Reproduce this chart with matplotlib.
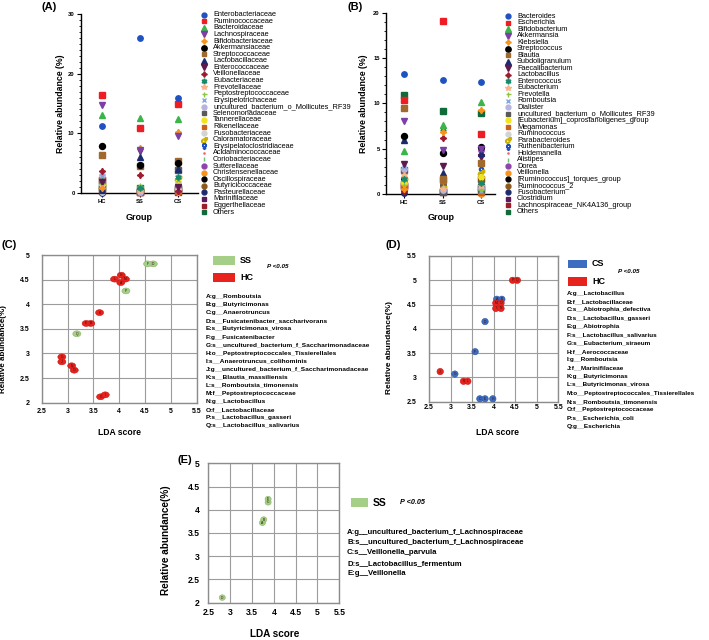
import numpy as np
import matplotlib
matplotlib.use('Agg')
import matplotlib.pyplot as plt
from matplotlib.patches import Ellipse, Rectangle

plt.rcParams['font.family'] = ['Liberation Sans', 'DejaVu Sans']

groups = ['HC', 'SS', 'CS']

# panel A - family level
fam_names = ['Enterobacteriaceae', 'Ruminococcaceae', 'Bacteroidaceae', 'Lachnospiraceae',
             'Bifidobacteriaceae', 'Akkermansiaceae', 'Streptococcaceae', 'Lactobacillaceae',
             'Enterococcaceae', 'Veillonellaceae', 'Eubacteriaceae', 'Prevotellaceae',
             'Peptostreptococcaceae', 'Erysipelotrichaceae', 'uncultured_bacterium_o_Mollicutes_RF39',
             'Selenomonadaceae', 'Tannerellaceae', 'Rikenellaceae', 'Fusobacteriaceae',
             'Caloramatoraceae', 'Erysipelatoclostridiaceae', 'Acidaminococcaceae',
             'Coriobacteriaceae', 'Sutterellaceae', 'Christensenellaceae', 'Oscillospiraceae',
             'Butyricicoccaceae', 'Pasteurellaceae', 'Marinifilaceae', 'Eggerthellaceae', 'Others']
fam_hc = [11.3, 16.4, 13.1, 14.7, 0.9, 7.9, 6.4, 0.5, 1.8, 3.7, 2.0, 1.2, 1.5, 2.9, 3.0,
          0.8, 1.4, 2.2, 0.1, 1.0, 0.6, 0.4, 0.7, 1.6, 0.8, 0.6, 0.9, 0.0, 2.1, 0.3, 1.1]
fam_ss = [25.9, 10.9, 12.5, 7.2, 7.5, 4.7, 4.5, 6.0, 7.0, 3.0, 0.8, 0.3, 1.1, 0.6, 0.2,
          0.4, 0.5, 0.2, 0.9, 0.1, 0.2, 0.1, 0.3, 0.4, 0.2, 0.3, 0.5, 0.1, 0.2, 0.1, 0.9]
fam_cs = [15.9, 14.9, 12.4, 9.6, 10.2, 5.1, 5.4, 4.1, 1.0, 0.4, 2.6, 0.5, 0.3, 2.1, 0.7,
          3.9, 1.8, 0.3, 0.2, 2.4, 1.5, 0.2, 0.4, 1.2, 0.6, 0.5, 0.7, 0.1, 0.8, 0.2, 0.6]

# panel B - genus level
gen_names = ['Bacteroides', 'Escherichia', 'Bifidobacterium', 'Akkermansia', 'Klebsiella',
             'Streptococcus', 'Blautia', 'Subdoligranulum', 'Faecalibacterium', 'Lactobacillus',
             'Enterococcus', 'Eubacterium', 'Prevotella', 'Romboutsia', 'Dialister',
             'uncultured_bacterium_o_Mollicutes_RF39', '[Eubacterium]_coprostanoligenes_group',
             'Megamonas', 'Ruminococcus', 'Parabacteroides', 'Ruthenibacterium', 'Holdemanella',
             'Alistipes', 'Dorea', 'Veillonella', '[Ruminococcus]_torques_group', 'Ruminococcus_2',
             'Fusobacterium', 'Clostridium', 'Lachnospiraceae_NK4A136_group', 'Others']
gen_hc = [13.2, 10.4, 4.7, 8.0, 0.6, 6.4, 9.45, 6.0, 3.3, 0.3, 1.6, 2.1, 1.0, 3.0, 2.8,
          2.6, 1.2, 0.8, 2.4, 1.4, 0.9, 0.5, 1.1, 1.3, 0.7, 1.5, 1.8, 0.1, 0.9, 1.0, 10.9]
gen_ss = [12.6, 19.1, 7.6, 4.85, 6.8, 4.5, 1.7, 2.3, 3.1, 6.2, 7.2, 0.5, 0.8, 0.6, 0.4,
          0.2, 0.2, 1.5, 0.6, 0.5, 0.3, 0.1, 0.3, 0.4, 2.0, 0.5, 0.9, 1.0, 0.3, 0.2, 9.2]
gen_cs = [12.4, 6.6, 10.1, 5.0, 9.3, 5.2, 3.45, 4.5, 4.1, 4.3, 1.2, 0.9, 0.4, 0.3, 0.7,
          0.5, 1.9, 0.2, 0.9, 2.3, 2.7, 0.3, 0.6, 4.9, 0.05, 1.0, 1.4, 0.2, 1.6, 0.8, 8.9]

# symbol set shared by A and B (marker, colour, size)
styles = [('o', '#1f52c0', 3.9), ('s', '#ee1d23', 3.9), ('^', '#3bb44a', 4.1),
          ('v', '#7b3fa6', 4.1), ((4, 1, 0), '#f7941d', 4.6), ('o', '#000000', 4.3),
          ('s', '#a0692d', 3.9), ('^', '#1c2b6e', 4.1), ('v', '#5c1a4e', 4.1),
          ((4, 1, 0), '#9e1b30', 4.6), ((6, 1, 0), '#178a6c', 4.4), ('*', '#f9b48a', 4.4),
          ('+', '#8dc63f', 4.0), ('x', '#7fa7e0', 3.5), ('o', '#b9b3e0', 3.9),
          ('s', '#5a5a5a', 3.9), ('o', '#f2e41c', 3.9), ('s', '#c8611a', 3.9),
          ('o', '#d3d3d3', 3.9), ('$\u2642$', '#c9b200', 4.6), ('$\u2640$', '#1f52c0', 4.6),
          ('.', '#f26a6a', 2.0), ('|', '#6cc070', 3.5), ('o', '#8e44ad', 3.9),
          ('o', '#f7931e', 3.9), ('o', '#000000', 3.9), ('o', '#8b5a1b', 3.9),
          ('o', '#1c2b6e', 3.9), ('s', '#5a1a5a', 3.7), ('s', '#9e1b2a', 3.7),
          ('s', '#106b3b', 3.7)]

# panel C - LEfSe SS vs HC
c_taxa = ['g__Romboutsia', 'g__Butyricimonas', 'g__Anaerotruncus',
          's__Fusicatenibacter_saccharivorans', 's__Butyricimonas_virosa', 'g__Fusicatenibacter',
          's__uncultured_bacterium_f_Saccharimonadaceae', 'o__Peptostreptococcales_Tissierellales',
          's__Anaerotruncus_colihominis', 'g__uncultured_bacterium_f_Saccharimonadaceae',
          's__Blautia_massiliensis', 's__Romboutsia_timonensis', 'f__Peptostreptococcaceae',
          'g__Lactobacillus', 'f__Lactobacillaceae', 's__Lactobacillus_gasseri',
          's__Lactobacillus_salivarius']
c_lda = [4.03, 3.45, 3.64, 4.66, 3.36, 4.55, 2.89, 4.04, 3.73, 2.89, 3.62, 3.91, 4.12,
         3.08, 3.13, 4.13, 3.18]
c_abund = [4.44, 3.61, 2.12, 4.82, 3.61, 4.82, 2.93, 4.59, 2.16, 2.83, 3.83, 4.51, 4.51,
           2.75, 2.66, 4.27, 3.40]
c_group = ['HC', 'HC', 'HC', 'SS', 'HC', 'SS', 'HC', 'HC', 'HC', 'HC', 'HC', 'HC', 'HC',
           'HC', 'HC', 'SS', 'SS']

# panel D - LEfSe CS vs HC
d_taxa = ['g__Lactobacillus', 'f__Lactobacillaceae', 's__Abiotrophia_defectiva',
          's__Lactobacillus_gasseri', 'g__Abiotrophia', 's__Lactobacillus_salivarius',
          's__Eubacterium_siraeum', 'f__Aerococcaceae', 'g__Romboutsia', 'f__Marinifilaceae',
          'g__Butyricimonas', 's__Butyricimonas_virosa', 'o__Peptostreptococcales_Tissierellales',
          's__Romboutsia_timonensis', 'f__Peptostreptococcaceae', 's__Escherichia_coli',
          'g__Escherichia']
d_lda = [4.07, 4.19, 3.68, 3.80, 3.80, 3.57, 3.10, 3.98, 4.05, 2.76, 3.30, 3.40, 4.05,
         4.17, 4.17, 4.44, 4.55]
d_abund = [4.61, 4.61, 2.56, 4.15, 2.56, 3.53, 3.07, 2.56, 4.42, 3.12, 2.92, 2.92, 4.53,
           4.42, 4.53, 5.0, 5.0]
d_group = ['CS'] * 8 + ['HC'] * 9

# panel E - LEfSe SS only
e_taxa = ['g__uncultured_bacterium_f_Lachnospiraceae', 's__uncultured_bacterium_f_Lachnospiraceae',
          's__Veillonella_parvula', 's__Lactobacillus_fermentum', 'g__Veillonella']
e_lda = [3.74, 3.77, 3.87, 2.82, 3.87]
e_abund = [3.72, 3.79, 4.16, 2.11, 4.23]
e_group = ['SS'] * 5

fill = {'HC': '#e8221d', 'SS': '#a5cf87', 'CS': '#3d6cc0'}
edge = {'HC': '#c41812', 'SS': '#86b866', 'CS': '#2c56a3'}

W, H = 709, 640
fig = plt.figure(figsize=(W / 100, H / 100), dpi=100)


def box(l, t, r, b):
    return [l / W, 1 - b / H, (r - l) / W, (b - t) / H]


# overlay in pixel coordinates for legends and panel letters
ov = fig.add_axes([0, 0, 1, 1], zorder=5)
ov.set_xlim(0, W)
ov.set_ylim(H, 0)
ov.axis('off')
ov.patch.set_alpha(0)


def dot_panel(ax, hc, ss, cs, ymax, xlim, names, lx, ly0, dy):
    for i, (m, c, s) in enumerate(styles):
        ax.plot(range(3), [hc[i], ss[i], cs[i]], ls='none', marker=m, color=c, ms=s,
                mew=1.0, zorder=40 - i, clip_on=False)
        ov.plot(lx, ly0 + i * dy, ls='none', marker=m, color=c, ms=s * 0.9, mew=1.0)
        ov.text(lx + 9, ly0 + i * dy, names[i], fontsize=5.3, va='center', ha='left')
    ax.set_xlim(*xlim)
    ax.set_ylim(0, ymax)
    ax.set_xticks(range(3))
    ax.set_xticklabels(groups, fontsize=4.2, fontweight='bold')
    ax.spines['top'].set_visible(False)
    ax.spines['right'].set_visible(False)
    for s in ['left', 'bottom']:
        ax.spines[s].set_linewidth(1.0)
    ax.tick_params(axis='y', labelsize=4.2, length=3, width=0.8, pad=1.5)
    ax.tick_params(axis='x', length=3, width=0.8, pad=1.5)
    ax.minorticks_on()
    ax.tick_params(axis='x', which='minor', bottom=False)
    ax.tick_params(axis='y', which='minor', length=1.5, width=0.6)


axA = fig.add_axes(box(81, 14, 198, 193))
dot_panel(axA, fam_hc, fam_ss, fam_cs, 30, (-0.55, 2.53), fam_names, 204, 14.7, 6.58)
axA.set_yticks([0, 10, 20, 30])
axA.yaxis.set_minor_locator(matplotlib.ticker.MultipleLocator(1))
for t in axA.get_yticklabels():
    t.set_fontweight('bold')
axA.set_ylabel('Relative abundance (%)', fontsize=6.3, fontweight='bold')
axA.yaxis.set_label_coords(-0.137, 0.5)
axA.set_xlabel('Group', fontsize=6.5, fontweight='bold')
axA.xaxis.set_label_coords(0.5, -0.112)

axB = fig.add_axes(box(386, 12.7, 495, 194))
dot_panel(axB, gen_hc, gen_ss, gen_cs, 20, (-0.47, 2.36), gen_names, 508, 16, 6.53)
axB.set_yticks([0, 5, 10, 15, 20])
axB.yaxis.set_minor_locator(matplotlib.ticker.MultipleLocator(1))
for t in axB.get_yticklabels():
    t.set_fontweight('bold')
axB.set_ylabel('Relative abundance (%)', fontsize=6.3, fontweight='bold')
axB.yaxis.set_label_coords(-0.165, 0.5)
axB.set_xlabel('Group', fontsize=6.5, fontweight='bold')
axB.xaxis.set_label_coords(0.51, -0.105)


def lefse_panel(ax, lda, ab, grp, ylim, ew, eh, fs, ypad, xpad):
    ax.set_xlim(2.5, 5.5)
    ax.set_ylim(*ylim)
    xt = np.arange(2.5, 5.51, 0.5)
    yt = np.arange(ylim[0], ylim[1] + 0.01, 0.5)
    ax.set_xticks(xt)
    ax.set_xticklabels(['%g' % v for v in xt], fontsize=fs, fontweight='bold')
    ax.set_yticks(yt)
    ax.set_yticklabels(['%g' % v for v in yt], fontsize=fs, fontweight='bold')
    ax.grid(color='#9c9c9c', lw=0.8)
    ax.set_axisbelow(True)
    for s in ax.spines.values():
        s.set_color('#8c8c8c')
        s.set_linewidth(1.0)
    ax.tick_params(axis='both', length=0)
    ax.tick_params(axis='y', pad=ypad)
    ax.tick_params(axis='x', pad=xpad)
    for i, (x, y, g) in enumerate(zip(lda, ab, grp)):
        ax.add_patch(Ellipse((x, y), ew, eh, fc=fill[g], ec=edge[g], lw=0.4, zorder=3))
        ax.text(x, y, chr(65 + i), fontsize=2.4, ha='center', va='center', color='#3a1010',
                zorder=4)


def lefse_legend(entries, lx, ly0, dy, taxa, fs, rect, ptxt):
    for (g, t, b) in entries:
        ov.add_patch(Rectangle((rect[0], t), rect[1] - rect[0], b - t, fc=fill[g], ec='none'))
        ov.text(rect[1] + 5, (t + b) / 2, g, fontsize=rect[2], fontweight='bold',
                va='center', ha='left')
    ov.text(ptxt[0], ptxt[1], 'P <0.05', fontsize=ptxt[2], fontweight='bold',
            style='italic', va='center', ha='left')
    for i, name in enumerate(taxa):
        ov.text(lx, ly0 + i * dy, chr(65 + i) + ':' + name, fontsize=fs, fontweight='bold',
                va='center', ha='left')


axC = fig.add_axes(box(41.7, 255, 196.7, 402.7))
lefse_panel(axC, c_lda, c_abund, c_group, (2, 5), 0.155, 0.12, 5.0, 8.4, 4.0)
axC.set_ylabel('Relative abundance(%)', fontsize=5.8, fontweight='bold')
axC.yaxis.set_label_coords(-0.222, 0.36)
axC.set_xlabel('LDA score', fontsize=6.2, fontweight='bold')
axC.xaxis.set_label_coords(0.505, -0.171)
lefse_legend([('SS', 256, 265), ('HC', 272.7, 281.7)], 205.7, 296.7, 8.06, c_taxa, 4.65,
             (213, 235, 6.5), (266.7, 266.7, 4.5))

axD = fig.add_axes(box(429, 256, 558.3, 401.7))
lefse_panel(axD, d_lda, d_abund, d_group, (2.5, 5.5), 0.15, 0.13, 5.0, 8.6, 2.0)
axD.set_ylabel('Relative abundance(%)', fontsize=6.0, fontweight='bold')
axD.yaxis.set_label_coords(-0.278, 0.37)
axD.set_xlabel('LDA score', fontsize=6.2, fontweight='bold')
axD.xaxis.set_label_coords(0.526, -0.18)
lefse_legend([('CS', 260, 268), ('HC', 277, 286)], 566.7, 293.3, 8.33, d_taxa, 4.55,
             (568, 587, 6.5), (618, 271.7, 4.5))

axE = fig.add_axes(box(208.3, 463.3, 339.3, 602.7))
lefse_panel(axE, e_lda, e_abund, e_group, (2, 5), 0.14, 0.12, 6.2, 6.0, 3.5)
axE.set_ylabel('Relative abundance(%)', fontsize=7.2, fontweight='bold')
axE.yaxis.set_label_coords(-0.285, 0.45)
axE.set_xlabel('LDA score', fontsize=7.2, fontweight='bold')
axE.xaxis.set_label_coords(0.51, -0.19)
lefse_legend([('SS', 497.7, 507.3)], 347, 532.7, 10.15, e_taxa, 5.6,
             (351, 368, 7.5), (400, 502.5, 5.2))

# panel letters
for lab, x, y in [('(A)', 42, 7), ('(B)', 348, 7), ('(C)', 1, 245), ('(D)', 385, 245),
                  ('(E)', 177, 460)]:
    ov.text(x, y, lab, fontsize=8, fontweight='bold', va='center', ha='left')

fig.savefig('out.png', dpi=100)
